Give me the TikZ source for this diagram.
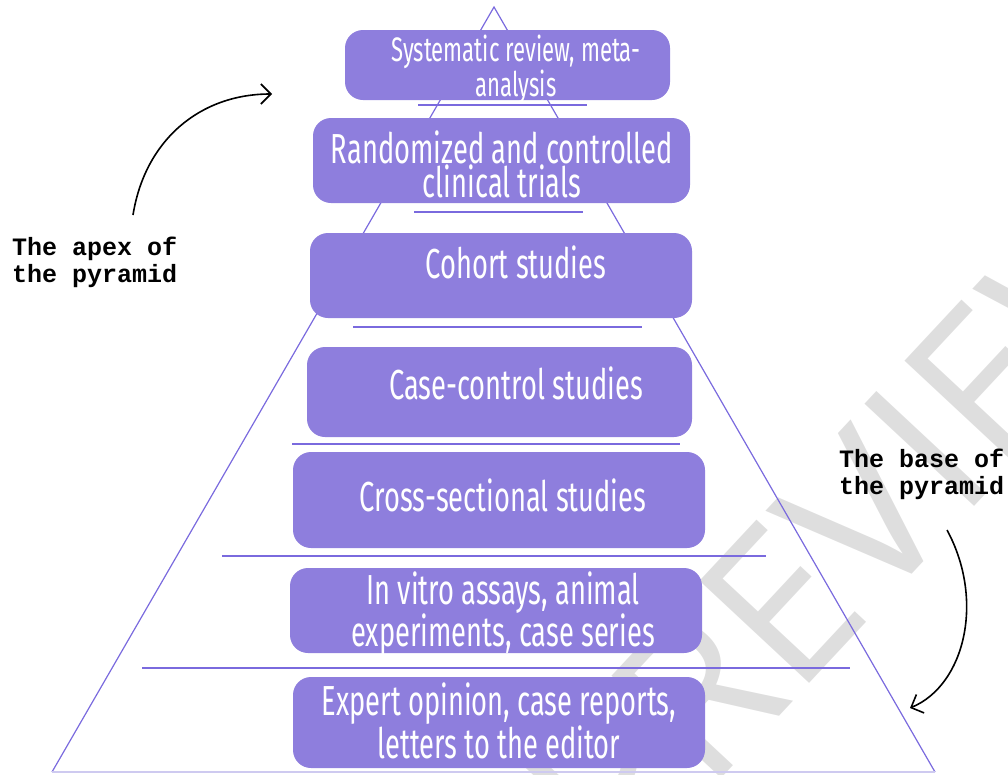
\documentclass[tikz,border=0pt]{standalone}
\usepackage{fontspec}
\usetikzlibrary{arrows.meta}
\newfontfamily\levelfont[FakeStretch=0.65]{Fira Sans}
\newfontfamily\notefont{Liberation Mono}
\newfontfamily\markfont{Open Sans}
\definecolor{boxpurple}{RGB}{142,126,221}
\definecolor{linepurple}{RGB}{122,106,222}
\definecolor{basepurple}{RGB}{206,202,240}
\definecolor{markgray}{RGB}{222,222,222}
\begin{document}
\begin{tikzpicture}[x=1pt, y=-1pt,
    level/.style={shape=rectangle, rounded corners=18pt, fill=boxpurple, inner sep=0pt},
    leveltext/.style={text=white, align=center, inner sep=0pt, font=\levelfont\fontsize{42}{33}\selectfont},
    note/.style={align=left, inner sep=0pt, font=\notefont\bfseries\fontsize{25}{27}\selectfont},
    sep/.style={draw=linepurple, line width=1.2pt},
    curved/.style={draw=black, line width=1.6pt, -{Straight Barb[length=10pt,width=20pt]}}]
    \useasboundingbox (0,0) rectangle (1008,774);

    % watermark
    \begin{scope}
        \clip (0,0) rectangle (1008,774);
        \node[text=markgray, inner sep=0pt, anchor=base west, rotate=47, font=\markfont\fontsize{210}{210}\selectfont] (preview) at (621,886) {PREVIEW};
    \end{scope}

    % pyramid outline
    \draw[linepurple, line width=1.2pt] (52,772) -- (494,7) -- (935,772);
    \draw[basepurple, line width=1.2pt] (52,772) -- (935,772);
    \draw[sep] (418,105) -- (587,105);
    \draw[sep] (414,212) -- (583,212);
    \draw[sep] (353,327) -- (642,327);
    \draw[sep] (292,444) -- (680,444);
    \draw[sep] (222,556) -- (766,556);
    \draw[sep] (142,668) -- (850,668);

    % levels
    \node[level, minimum width=325, minimum height=70] (sysrev) at (507.5,65) {};
    \node[level, minimum width=377, minimum height=85] (rct) at (501.5,160.5) {};
    \node[level, minimum width=382, minimum height=85] (cohort) at (501,275.5) {};
    \node[level, minimum width=385, minimum height=90] (casectrl) at (499.5,392) {};
    \node[level, minimum width=412, minimum height=96] (crosssec) at (499,500) {};
    \node[level, minimum width=412, minimum height=85] (invitro) at (496,610.5) {};
    \node[level, minimum width=412, minimum height=91] (expert) at (499,722.5) {};

    \node[leveltext, font=\levelfont\fontsize{34}{29}\selectfont] (sysrev-t) at (516,69) {Systematic review, meta-\\analysis};
    \node[leveltext] (rct-t) at (502,164) {Randomized and controlled\\clinical trials};
    \node[leveltext, anchor=base] (cohort-t) at (516,278) {Cohort studies};
    \node[leveltext, anchor=base] (casectrl-t) at (516,399) {Case-control studies};
    \node[leveltext, anchor=base] (crosssec-t) at (503,511) {Cross-sectional studies};
    \node[leveltext] (invitro-t) at (503,613.5) {In vitro assays, animal\\experiments, case series};
    \node[leveltext] (expert-t) at (499,721) {Expert opinion, case reports,\\letters to the editor};

    % side notes
    \node[note, anchor=north west] (apex) at (12,237) {The apex of\\the pyramid};
    \node[note, anchor=north west] (base) at (839,449) {The base of\\the pyramid};

    \coordinate (apextail) at (133,215);
    \coordinate (apextip) at (272,94);
    \coordinate (basetail) at (947,530);
    \coordinate (basetip) at (910,708);
    \draw[curved] (apextail) .. controls (145,140) and (200,94) .. (apextip);
    \draw[curved] (basetail) .. controls (985,600) and (965,685) .. (basetip);
\end{tikzpicture}
\end{document}
